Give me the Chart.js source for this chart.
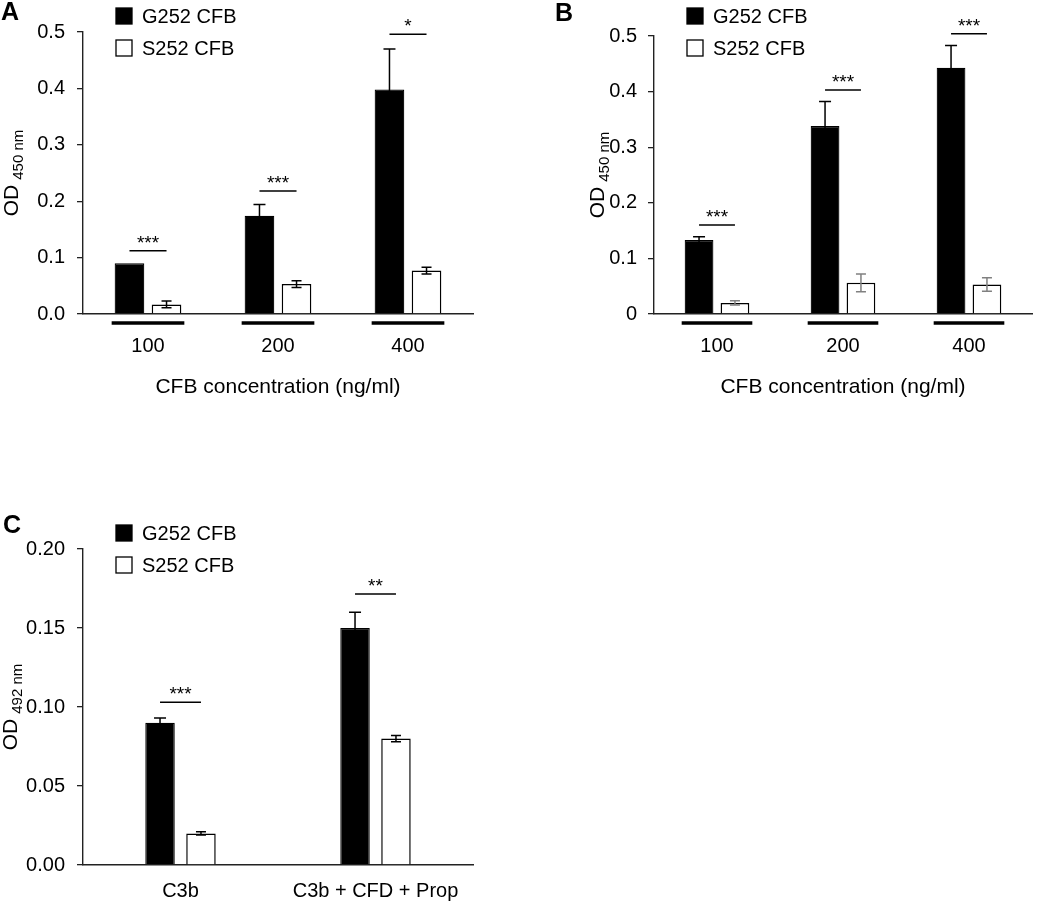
<!DOCTYPE html>
<html>
<head>
<meta charset="utf-8">
<script src="https://cdn.jsdelivr.net/npm/chart.js@4.4.1/dist/chart.umd.min.js"></script>
<style>
  body { margin: 0; background: #fff; width: 1050px; height: 901px; position: relative; overflow: hidden; }
  .panel { position: absolute; }
</style>
</head>
<body>
<div class="panel" style="left:0;top:0;width:490px;height:400px"><canvas id="chartA"></canvas></div>
<div class="panel" style="left:510px;top:0;width:540px;height:400px"><canvas id="chartB"></canvas></div>
<div class="panel" style="left:0;top:470px;width:490px;height:431px"><canvas id="chartC"></canvas></div>
<script>
// series names
const seriesNames = ['G252 CFB', 'S252 CFB'];

// panel A - OD 450 nm vs CFB concentration
const concLabels = ['100', '200', '400'];
const aG252 = [0.090, 0.174, 0.398];
const aG252Err = [0, 0.020, 0.072];
const aS252 = [0.017, 0.053, 0.077];
const aS252Err = [0.006, 0.006, 0.006];
const aStars = ['***', '***', '*'];
const aStarLevel = [0.112, 0.218, 0.496];

// panel B - second OD 450 nm run
const bG252 = [0.133, 0.338, 0.443];
const bG252Err = [0.006, 0.044, 0.040];
const bS252 = [0.020, 0.056, 0.053];
const bS252Err = [0.004, 0.016, 0.012];
const bStars = ['***', '***', '***'];
const bStarLevel = [0.160, 0.403, 0.504];

// panel C - OD 492 nm per condition
const treatLabels = ['C3b', 'C3b + CFD + Prop'];
const cG252 = [0.090, 0.150];
const cG252Err = [0.003, 0.010];
const cS252 = [0.020, 0.080];
const cS252Err = [0.001, 0.002];
const cStars = ['***', '**'];
const cStarLevel = [0.103, 0.1715];

const FONT = '"Liberation Sans", Arial, Helvetica, sans-serif';
Chart.defaults.font.family = FONT;
Chart.defaults.color = '#000';

// draws error bars, significance marks, legend, titles and panel letter
const panelDecor = {
  id: 'panelDecor',
  afterDatasetsDraw(chart, args, o) {
    const ctx = chart.ctx;
    const ys = chart.scales.y;
    const area = chart.chartArea;

    // error bars
    chart.data.datasets.forEach((ds, i) => {
      const meta = chart.getDatasetMeta(i);
      meta.data.forEach((bar, j) => {
        const v = ds.data[j], e = ds.errors[j];
        if (!e) return;
        const top = ys.getPixelForValue(v + e);
        const bot = ys.getPixelForValue(v - e);
        const cap = ds.capHalf;
        ctx.save();
        ctx.strokeStyle = ds.errorColor;
        ctx.lineWidth = 1.5;
        ctx.beginPath();
        ctx.moveTo(bar.x, top); ctx.lineTo(bar.x, bot);
        ctx.moveTo(bar.x - cap, top); ctx.lineTo(bar.x + cap, top);
        ctx.moveTo(bar.x - cap, bot); ctx.lineTo(bar.x + cap, bot);
        ctx.stroke();
        ctx.restore();
      });
    });

    const mG = chart.getDatasetMeta(0), mS = chart.getDatasetMeta(1);

    // significance lines and stars
    o.stars.forEach((s, j) => {
      const x1 = mG.data[j].x, x2 = mS.data[j].x;
      const ly = ys.getPixelForValue(o.starLevel[j]);
      ctx.save();
      ctx.strokeStyle = '#000';
      ctx.lineWidth = 1.5;
      ctx.beginPath();
      ctx.moveTo(x1, ly); ctx.lineTo(x2, ly);
      ctx.stroke();
      ctx.fillStyle = '#000';
      ctx.font = '19px ' + FONT;
      ctx.textAlign = 'center';
      ctx.textBaseline = 'alphabetic';
      ctx.fillText(s, (x1 + x2) / 2, ly - 2);
      ctx.restore();
    });

    // thick group lines under the axis
    if (o.underline) {
      mG.data.forEach((g, j) => {
        const s = mS.data[j];
        ctx.save();
        ctx.strokeStyle = '#000';
        ctx.lineWidth = 3.5;
        ctx.beginPath();
        ctx.moveTo(g.x - g.width / 2 - 3, area.bottom + 9);
        ctx.lineTo(s.x + s.width / 2 + 3, area.bottom + 9);
        ctx.stroke();
        ctx.restore();
      });
    }

    // legend
    const lx = area.left + 33;
    chart.data.datasets.forEach((ds, i) => {
      const top = o.legendTop + i * 32;
      ctx.save();
      ctx.fillStyle = ds.backgroundColor;
      ctx.fillRect(lx, top, 16, 16);
      ctx.strokeStyle = '#000';
      ctx.lineWidth = 1.3;
      ctx.strokeRect(lx, top, 16, 16);
      ctx.fillStyle = '#000';
      ctx.font = '20px ' + FONT;
      ctx.textAlign = 'left';
      ctx.textBaseline = 'middle';
      ctx.fillText(ds.label, lx + 26, top + 9);
      ctx.restore();
    });

    // y title with subscript
    ctx.save();
    ctx.fillStyle = '#000';
    ctx.font = '21px ' + FONT;
    const w1 = ctx.measureText('OD').width;
    ctx.font = '15px ' + FONT;
    const w2 = ctx.measureText(o.ySub).width;
    const total = w1 + 5 + w2;
    const cy = (area.top + area.bottom) / 2;
    ctx.translate(o.yTitleX, cy + total / 2);
    ctx.rotate(-Math.PI / 2);
    ctx.textAlign = 'left';
    ctx.textBaseline = 'alphabetic';
    ctx.font = '21px ' + FONT;
    ctx.fillText('OD', 0, 0);
    ctx.font = '15px ' + FONT;
    ctx.fillText(o.ySub, w1 + 5, 5);
    ctx.restore();

    // x title
    if (o.xTitle) {
      ctx.save();
      ctx.fillStyle = '#000';
      ctx.font = '21px ' + FONT;
      ctx.textAlign = 'center';
      ctx.textBaseline = 'middle';
      ctx.fillText(o.xTitle, (area.left + area.right) / 2, area.bottom + 73);
      ctx.restore();
    }

    // panel letter
    ctx.save();
    ctx.fillStyle = '#000';
    ctx.font = 'bold 25px ' + FONT;
    ctx.textAlign = 'left';
    ctx.textBaseline = 'top';
    ctx.fillText(o.letter, o.letterX, o.letterY);
    ctx.restore();
  }
};

function makeChart(id, p) {
  const ctx = document.getElementById(id).getContext('2d');
  return new Chart(ctx, {
    type: 'bar',
    data: {
      labels: p.labels,
      datasets: [
        { label: seriesNames[0], data: p.g, errors: p.gErr, errorColor: '#000', capHalf: 6,
          backgroundColor: '#000', borderColor: '#000', borderWidth: 1.2 },
        { label: seriesNames[1], data: p.s, errors: p.sErr, errorColor: p.sErrColor, capHalf: 5,
          backgroundColor: '#fff', borderColor: '#000', borderWidth: 1.5 }
      ]
    },
    options: {
      responsive: true,
      maintainAspectRatio: false,
      animation: false,
      datasets: { bar: { categoryPercentage: p.catPct, barPercentage: p.barPct } },
      layout: { padding: { left: 0, right: p.padRight, top: p.padTop, bottom: 0 } },
      plugins: {
        legend: { display: false },
        tooltip: { enabled: false },
        panelDecor: {
          stars: p.stars, starLevel: p.starLevel, underline: p.underline,
          legendTop: p.legendTop, ySub: p.ySub, yTitleX: p.yTitleX,
          xTitle: p.xTitle, letter: p.letter, letterX: p.letterX, letterY: p.letterY
        }
      },
      scales: {
        x: {
          grid: { display: false, drawTicks: false },
          border: { display: true, color: '#222', width: 1.4 },
          ticks: { font: { size: 20 }, padding: p.xTickPad, color: '#000', maxRotation: 0, autoSkip: false },
          afterFit: s => { s.height = p.xHeight; }
        },
        y: {
          min: 0,
          max: p.yMax,
          grid: { drawOnChartArea: false, drawTicks: true, tickLength: 6, color: '#222', lineWidth: 1.3 },
          border: { display: true, color: '#222', width: 1.4 },
          ticks: { stepSize: p.yStep, font: { size: 20 }, padding: p.yTickPad, color: '#000', callback: p.fmt },
          afterFit: s => { s.width = p.yWidth; }
        }
      }
    },
    plugins: [panelDecor]
  });
}

makeChart('chartA', {
  labels: concLabels, g: aG252, gErr: aG252Err, s: aS252, sErr: aS252Err, sErrColor: '#000',
  stars: aStars, starLevel: aStarLevel, underline: true,
  catPct: 0.57, barPct: 0.8, padRight: 17, padTop: 32, xHeight: 86, yWidth: 83,
  xTickPad: 20, yTickPad: 12, yMax: 0.5, yStep: 0.1, fmt: v => v.toFixed(1),
  legendTop: 8, ySub: '450 nm', yTitleX: 18, xTitle: 'CFB concentration (ng/ml)',
  letter: 'A', letterX: 1, letterY: 1
});

makeChart('chartB', {
  labels: concLabels, g: bG252, gErr: bG252Err, s: bS252, sErr: bS252Err, sErrColor: '#808080',
  stars: bStars, starLevel: bStarLevel, underline: true,
  catPct: 0.57, barPct: 0.8, padRight: 18, padTop: 36, xHeight: 86, yWidth: 144,
  xTickPad: 20, yTickPad: 11, yMax: 0.5, yStep: 0.1, fmt: v => (v === 0 ? '0' : v.toFixed(1)),
  legendTop: 8, ySub: '450 nm', yTitleX: 94, xTitle: 'CFB concentration (ng/ml)',
  letter: 'B', letterX: 45, letterY: 2
});

makeChart('chartC', {
  labels: treatLabels, g: cG252, gErr: cG252Err, s: cS252, sErr: cS252Err, sErrColor: '#000',
  stars: cStars, starLevel: cStarLevel, underline: false,
  catPct: 0.42, barPct: 0.72, padRight: 17, padTop: 79, xHeight: 36, yWidth: 83,
  xTickPad: 14, yTickPad: 12, yMax: 0.2, yStep: 0.05, fmt: v => v.toFixed(2),
  legendTop: 55, ySub: '492 nm', yTitleX: 17, xTitle: '',
  letter: 'C', letterX: 3, letterY: 44
});
</script>
</body>
</html>
